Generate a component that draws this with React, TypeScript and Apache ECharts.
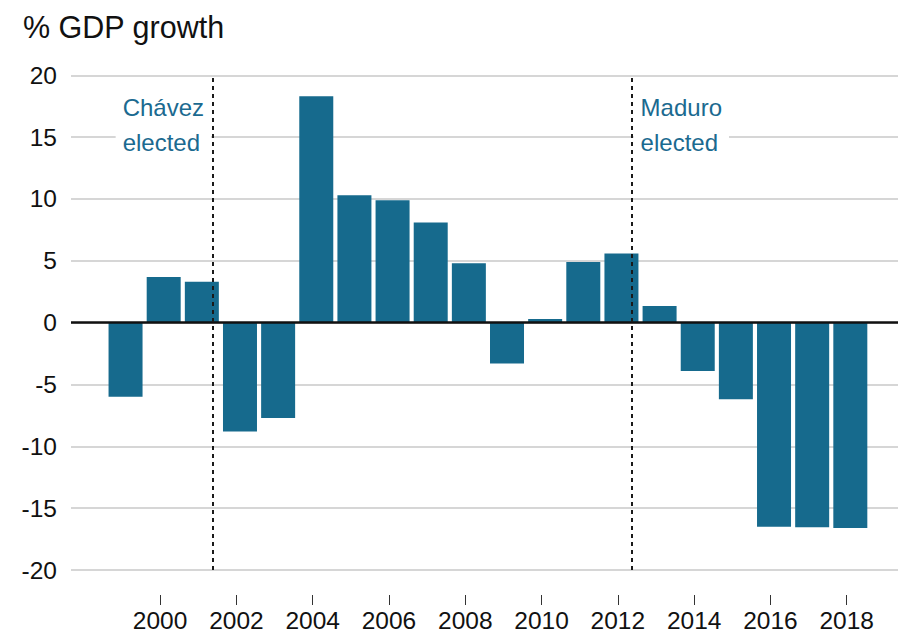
import React, { useEffect, useRef } from "react";
import * as echarts from "echarts";

const years = [1999, 2000, 2001, 2002, 2003, 2004, 2005, 2006, 2007, 2008, 2009, 2010, 2011, 2012, 2013, 2014, 2015, 2016, 2017, 2018];
const growth = [-6.0, 3.7, 3.3, -8.8, -7.7, 18.3, 10.3, 9.9, 8.1, 4.8, -3.3, 0.3, 4.9, 5.6, 1.35, -3.9, -6.2, -16.5, -16.55, -16.6];
const tickYears = [2000, 2002, 2004, 2006, 2008, 2010, 2012, 2014, 2016, 2018];
const events = [
  { lines: ["Chávez", "elected"], x: 2001.28, side: "left" },
  { lines: ["Maduro", "elected"], x: 2012.28, side: "right" },
];
const labelY = 16;

const FONT = '"Liberation Sans", Arial, Helvetica, sans-serif';
const BAR = "#166a8d";
const TEXT_BLUE = "#1b6a90";

export default function App() {
  const ref = useRef<HTMLDivElement>(null);
  useEffect(() => {
    const chart = echarts.init(ref.current!, null, { renderer: "svg" });
    const xMin = 1997.57;
    const xMax = 2019.25;
    const shift = 0.094;
    chart.setOption({
      animation: false,
      backgroundColor: "#fff",
      textStyle: { fontFamily: FONT },
      title: {
        text: "% GDP growth",
        left: 18,
        top: 6,
        textStyle: { fontSize: 30.5, fontWeight: "normal", color: "#111", fontFamily: FONT },
      },
      grid: { left: 71, right: 0, top: 75.3, bottom: 64, containLabel: false },
      xAxis: [
        {
          type: "value",
          min: xMin,
          max: xMax,
          show: true,
          axisLine: { show: false },
          axisTick: { show: false },
          axisLabel: { show: false },
          splitLine: { show: false },
        },
        {
          type: "value",
          min: xMin + shift,
          max: xMax + shift,
          position: "bottom",
          offset: 25,
          axisLine: { show: false },
          axisTick: { show: true, length: 10, lineStyle: { color: "#333", width: 1 }, customValues: tickYears },
          axisLabel: {
            show: true,
            customValues: tickYears,
            fontSize: 24.5,
            color: "#111",
            margin: 13,
            fontFamily: FONT,
            formatter: (v: number) => String(v),
          },
          splitLine: { show: false },
        },
      ],
      yAxis: {
        type: "value",
        min: -20,
        max: 20,
        interval: 5,
        axisLine: { show: false },
        axisTick: { show: false },
        axisLabel: { fontSize: 24.5, color: "#111", margin: 14, fontFamily: FONT },
        splitLine: { lineStyle: { color: "#c8c8c8", width: 1.5 } },
      },
      series: [
        {
          type: "bar",
          xAxisIndex: 0,
          barWidth: 34,
          data: years.map((y, i) => [y, growth[i]]),
          itemStyle: { color: BAR },
          markLine: {
            silent: true,
            symbol: "none",
            label: { show: false },
            data: [
              { yAxis: 0, lineStyle: { color: "#111", width: 2.5, type: "solid" } },
              ...events.map((e) => ({
                xAxis: e.x,
                lineStyle: { color: "#1a1a1a", width: 2, type: [4, 4] },
              })),
            ],
          },
        },
        ...events.map((e) => ({
          type: "scatter",
          xAxisIndex: 0,
          symbolSize: 1,
          itemStyle: { color: "rgba(0,0,0,0)", opacity: 1 },
          data: [[e.x, labelY]],
          z: 10,
          label: {
            show: true,
            position: e.side,
            distance: 1,
            formatter: e.lines.map((l) => "{a|" + l + "}").join("\n"),
            align: e.side === "left" ? "right" : "left",
            color: TEXT_BLUE,
            opacity: 1,
            backgroundColor: "#fff",
            padding: [2, 7, 2, 7],
            rich: {
              a: {
                align: "left",
                fontSize: 24,
                lineHeight: 35,
                color: TEXT_BLUE,
                fontFamily: FONT,
              },
            },
          },
        })),
      ],
    });
    return () => chart.dispose();
  }, []);
  return (
    <div
      ref={ref}
      style={{ position: "absolute", left: 0, top: 0, width: 898, height: 634 }}
    />
  );
}
